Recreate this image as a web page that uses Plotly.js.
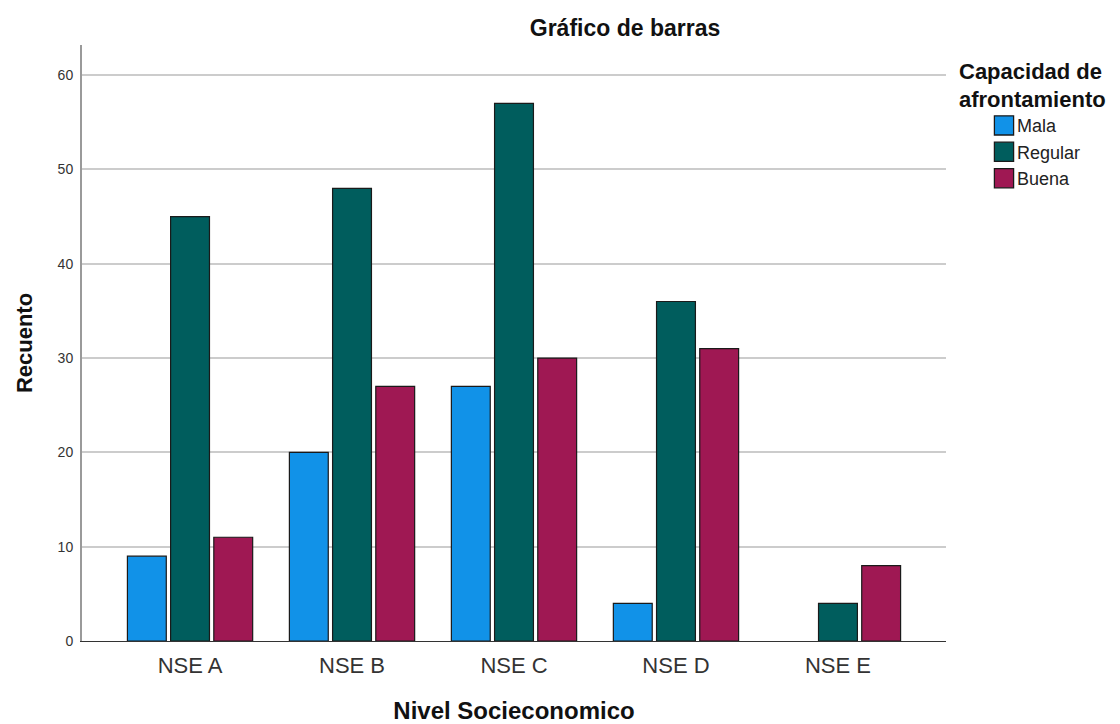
<!DOCTYPE html>
<html>
<head>
<meta charset="utf-8">
<script src="https://cdn.plot.ly/plotly-3.0.1.min.js"></script>
<style>html,body{margin:0;padding:0;background:#fff;}#chart{width:1120px;height:724px;}</style>
</head>
<body>
<div id="chart"></div>
<script>
const categories = ["NSE A", "NSE B", "NSE C", "NSE D", "NSE E"];
const seriesNames = ["Mala", "Regular", "Buena"];
const mala = [9, 20, 27, 4, 0];
const regular = [45, 48, 57, 36, 4];
const buena = [11, 27, 30, 31, 8];
const colors = ["#1192e8", "#005d5d", "#9f1853"];
const values = [mala, regular, buena];

const traces = values.map((v, i) => ({
  type: "bar",
  name: seriesNames[i],
  x: categories,
  y: v,
  marker: {color: colors[i], line: {color: "#1a1a1a", width: v.map(d => d > 0 ? 1.2 : 0)}},
  hoverinfo: "x+y+name"
}));

const layout = {
  width: 1120, height: 724,
  margin: {l: 82, r: 174, t: 45, b: 83, autoexpand: false},
  paper_bgcolor: "#fff", plot_bgcolor: "#fff",
  font: {family: "Liberation Sans, Arial, sans-serif", color: "#222"},
  title: {text: "<b>Gráfico de barras</b>", font: {size: 23, color: "#111"}, x: 625/1120, xanchor: "center", xref: "container", y: 1 - 28/724, yanchor: "middle", yref: "container"},
  barmode: "group",
  bargap: 0.2,
  bargroupgap: 0.1,
  xaxis: {
    type: "category",
    range: [-0.667, 4.667],
    showgrid: false,
    showline: true, linecolor: "#333", linewidth: 1,
    ticks: "",
    ticklabelstandoff: 5,
    tickfont: {size: 22, color: "#333"},
    title: {text: "<b>Nivel Socieconomico</b>", font: {size: 24, color: "#111"}, standoff: 28},
    zeroline: false,
    fixedrange: true
  },
  yaxis: {
    range: [0, 63.2],
    tickvals: [0, 10, 20, 30, 40, 50, 60],
    ticks: "",
    ticklabelstandoff: 4,
    tickfont: {size: 14, color: "#333"},
    showgrid: true, gridcolor: "#cccccc", gridwidth: 1.6,
    showline: true, linecolor: "#9a9a9a", linewidth: 2,
    zeroline: false,
    title: {text: "<b>Recuento</b>", font: {size: 22, color: "#111"}, standoff: 19},
    fixedrange: true
  },
  legend: {
    x: (957 - 82) / 864, xanchor: "left",
    y: (641 - 50) / 596, yanchor: "top",
    title: {text: "<b>Capacidad de<br>afrontamiento</b>", font: {size: 22, color: "#111"}, side: "top"},
    font: {size: 18, color: "#222"},
    bgcolor: "rgba(0,0,0,0)",
    itemwidth: 50,
    tracegroupgap: 0
  },
  showlegend: true
};

Plotly.newPlot("chart", traces, layout, {displayModeBar: false}).then(gd => {
  gd.querySelectorAll(".legend .legendpoints path").forEach(p => {
    p.setAttribute("transform", "translate(47,0) scale(1.6)");
    p.style.strokeWidth = "0.8px";
  });
});
</script>
</body>
</html>
